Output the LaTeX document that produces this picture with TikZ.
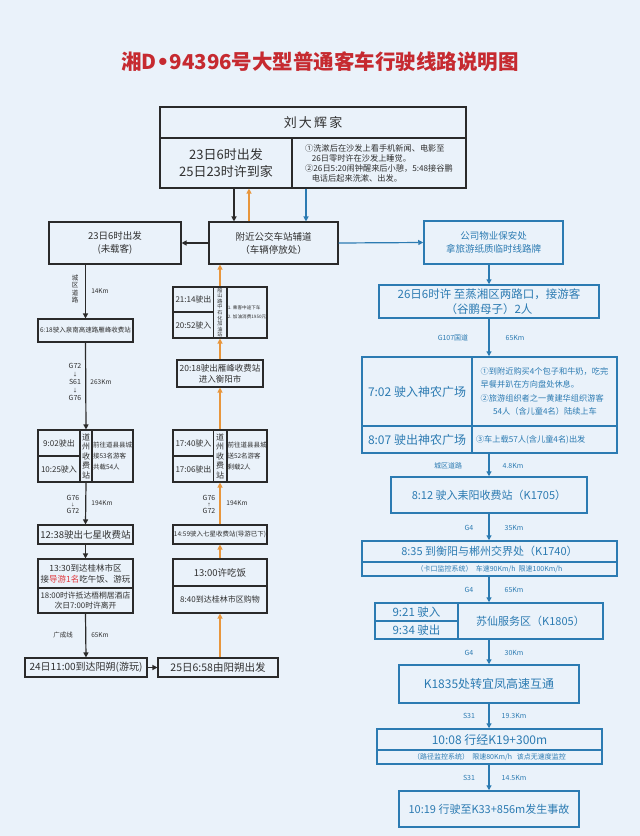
\documentclass[tikz,border=0pt]{standalone}
\usepackage{fontspec}
\setmainfont{Noto Sans CJK SC}
\newfontfamily\djv{DejaVu Sans}
\usetikzlibrary{arrows.meta}
\definecolor{bg}{HTML}{EAF2FA}
\definecolor{ttl}{HTML}{C62A30}
\definecolor{bl}{HTML}{2C7BB2}
\definecolor{dk}{HTML}{2A2A2A}
\definecolor{og}{HTML}{E8963C}
\definecolor{txt}{HTML}{303030}
\definecolor{rd}{HTML}{E0393E}
\newcommand\fs[2]{\fontsize{#1}{#2}\selectfont}
\tikzset{
  wh/.style 2 args={minimum width=#1pt,minimum height=#2pt},
  f/.style 2 args={font=\fs{#1}{#2}},
  lb/.style={draw=dk,line width=1.1pt,fill=bg,text=txt,inner sep=0pt,align=center},
  rb/.style={draw=bl,line width=1.5pt,fill=bg,text=bl,inner sep=0pt,align=center},
  arr/.style={-{Triangle[length=5pt,width=5pt]},line width=1.2pt},
  lab/.style={text=txt,inner sep=0pt,align=center},
  rlab/.style={text=bl,inner sep=0pt,align=center,font=\fs{7}{8}},
}
\begin{document}
\begin{tikzpicture}[x=1pt,y=-1pt]
\fill[bg] (0,0) rectangle (640,836);
\useasboundingbox (0,0) rectangle (640,836);
% title
\node[text=ttl,font=\bfseries\fs{20.5}{26}] (title) at (320,62) {湘D{\djv\bfseries•}94396号大型普通客车行驶线路说明图};
% top box
\node[lb,wh={306}{31},f={13}{15}] (home) at (313,122.5) {刘\,大\,辉\,家};
\node[lb,wh={132}{50},f={13}{17}] (dep) at (226,163) {23日6时出发\\25日23时许到家};
\node[lb,wh={174}{50},align=left,f={8.2}{10}] (note) at (379,163) {①洗漱后在沙发上看手机新闻、电影至\\\hspace*{0.8em}26日零时许在沙发上睡觉。\\②26日5:20闹钟醒来后小憩，5:48接谷鹏\\\hspace*{0.8em}电话后起来洗漱、出发。};
% bus stop and start
\node[lb,wh={129}{42},f={9.5}{13}] (bus) at (273.5,243) {附近公交车站辅道\\（车辆停放处）};
\node[lb,wh={132}{42},f={9.5}{13}] (start) at (115,243) {23日6时出发\\(未载客)};
\coordinate (xb) at (234,0);
\coordinate (xo) at (249,0);
\coordinate (xl) at (306,0);
\coordinate (cx) at (489,0);
\draw[arr,dk] (dep.south -| xb) -- (bus.north -| xb);
\draw[arr,og] (bus.north -| xo) -- (dep.south -| xo);
\draw[arr,bl] (note.south -| xl) -- (bus.north -| xl);
\draw[arr,dk] (bus.west) -- (start.east);
% left column
\node[lb,wh={95}{23},f={6.5}{8}] (s618) at (85.5,330.5) {6:18驶入泉南高速路雁峰收费站};
\node[lb,wh={42}{26},f={8}{10}] (l902) at (59,443) {9:02驶出};
\node[lb,wh={42}{26},f={8}{10}] (l1025) at (59,469) {10:25驶入};
\node[lb,wh={12}{52},f={8}{9.5}] (ldz) at (86,456) {道\\州\\收\\费\\站};
\node[lb,wh={41}{52},align=left,f={6.5}{11}] (lnote) at (112.5,456) {前往道县县城\\接53名游客\\共载54人};
\node[lb,wh={95}{19},f={9.5}{11}] (s1238) at (85.5,534.5) {12:38驶出七星收费站};
\node[lb,wh={95}{29},f={8.5}{11}] (s1330) at (85.5,573.5) {13:30到达桂林市区\\接\textcolor{rd}{导游1名}吃午饭、游玩};
\node[lb,wh={95}{25},f={7.8}{10}] (s1800) at (85.5,600.5) {18:00时许抵达梧桐居酒店\\次日7:00时许离开};
\node[lb,wh={122}{19},f={10}{12}] (s24) at (86,667.5) {24日11:00到达阳朔(游玩)};
\node[lb,wh={120}{19},f={10.5}{12}] (s25) at (218,667.5) {25日6:58由阳朔出发};
\draw[arr,dk] (start.south -| s618.north) -- (s618.north);
\draw[arr,dk] (s618.south) -- (ldz.north);
\draw[arr,dk] (ldz.south) -- (s1238.north);
\draw[arr,dk] (s1238.south) -- (s1330.north);
\draw[arr,dk] (s1800.south) -- (s24.north);
\draw[arr,dk] (s24.east) -- (s25.west);
\node[lab,f={6.5}{7.5}] (t1) at (75,289) {城\\区\\道\\路};
\node[lab,f={6.5}{7}] (t2) at (100,291) {14Km};
\node[lab,f={7}{8}] (t3) at (75,382) {G72\\{\fs{5}{8}↓}\\S61\\{\fs{5}{8}↓}\\G76};
\node[lab,f={6.5}{7}] (t4) at (101,382) {263Km};
\node[lab,f={7}{6.5}] (t5) at (73,504) {G76\\{\fs{4}{6.5}↓}\\G72};
\node[lab,f={6.5}{7}] (t6) at (102,503) {194Km};
\node[lab,f={6.5}{7}] (t7) at (63,635) {广成线};
\node[lab,f={6.5}{7}] (t8) at (100,635) {65Km};
% middle column
\node[lb,wh={94}{27},f={9.5}{11}] (m1300) at (220,572.5) {13:00许吃饭};
\node[lb,wh={94}{27},f={8}{10}] (m840) at (220,599.5) {8:40到达桂林市区购物};
\node[lb,wh={94}{19},f={6.5}{8}] (m1459) at (220,534.5) {14:59驶入七星收费站(导游已下)};
\node[lb,wh={41}{26},f={8}{10}] (m1740) at (193.5,443) {17:40驶入};
\node[lb,wh={41}{26},f={8}{10}] (m1706) at (193.5,469) {17:06驶出};
\node[lb,wh={13}{52},f={8}{9.5}] (mdz) at (220,456) {道\\州\\收\\费\\站};
\node[lb,wh={40}{52},align=left,f={6.5}{11}] (mnote) at (247,456) {前往道县县城\\送52名游客\\剩载2人};
\node[lb,wh={86}{27},f={8.5}{11}] (m2018) at (220,373.5) {20:18驶出雁峰收费站\\进入衡阳市};
\node[lb,wh={41}{25},f={8}{10}] (m2114) at (193.5,299.5) {21:14驶出};
\node[lb,wh={41}{26},f={8}{10}] (m2052) at (193.5,325) {20:52驶入};
\node[lb,wh={13}{51},f={5.2}{5.6}] (mgas) at (220,312.5) {船\\山\\路\\中\\石\\化\\加\\油\\站};
\node[lb,wh={40}{51},align=left,f={4.6}{9}] (mgnote) at (247,312.5) {1. 乘客中途下车\\2. 加油消费1950元};
\draw[arr,og] (s25.north -| m840.south) -- (m840.south);
\draw[arr,og] (m1300.north) -- (m1459.south);
\draw[arr,og] (m1459.north) -- (mdz.south);
\draw[arr,og] (mdz.north) -- (m2018.south);
\draw[arr,og] (m2018.north) -- (mgas.south);
\draw[arr,og] (mgas.north) -- (mgas.north |- bus.south);
\node[lab,f={7}{6.5}] (t9) at (209,504) {G76\\{\fs{4}{6.5}↑}\\G72};
\node[lab,f={6.5}{7}] (t10) at (237,503) {194Km};
% right column
\node[rb,wh={139}{43},f={9.5}{13}] (wuye) at (493.5,242.5) {公司物业保安处\\拿旅游纸质临时线路牌};
\node[rb,wh={220}{33},f={11.5}{14.5}] (d26) at (489,301.5) {26日6时许 至蒸湘区两路口，接游客\\（谷鹏母子）2人};
\node[rb,wh={110}{69},f={12}{14}] (r702) at (417,391.5) {7:02 驶入神农广场};
\node[rb,wh={110}{27},f={12}{14}] (r807) at (417,439.5) {8:07 驶出神农广场};
\node[rb,wh={145}{69},align=left,f={8.2}{13.3}] (rn1) at (544.5,391.5) {①到附近购买4个包子和牛奶，吃完\\早餐并趴在方向盘处休息。\\②旅游组织者之一黄建华组织游客\\\hspace*{1.5em}54人（含儿童4名）陆续上车};
\node[rb,wh={145}{27},text width=137pt,align=left,f={8.2}{10}] (rn2) at (544.5,439.5) {③车上载57人(含儿童4名)出发};
\node[rb,wh={196}{36},f={11}{13}] (r812) at (489,495) {8:12 驶入耒阳收费站（K1705）};
\node[rb,wh={255}{21},f={11}{13}] (r835) at (489.5,551.5) {8:35 到衡阳与郴州交界处（K1740）};
\node[rb,wh={255}{14},f={7}{8}] (r835b) at (489.5,569) {（卡口监控系统）\ \ 车速90Km/h\ \ 限速100Km/h};
\node[rb,wh={83}{18},f={11.5}{13}] (r921) at (416.5,612) {9:21 驶入};
\node[rb,wh={83}{18},f={11.5}{13}] (r934) at (416.5,630) {9:34 驶出};
\node[rb,wh={145}{36},f={11}{13}] (rsx) at (530.5,621) {苏仙服务区（K1805）};
\node[rb,wh={180}{38},f={12}{14}] (rk) at (489,684) {K1835处转宜凤高速互通};
\node[rb,wh={225}{21},f={12}{14}] (r1008) at (489.5,739.5) {10:08 行经K19+300m};
\node[rb,wh={225}{14},f={7}{8}] (r1008b) at (489.5,757) {（路径监控系统）\ \ 限速80Km/h\ \ \ 该点无速度监控};
\node[rb,wh={180}{36},f={11}{13}] (r1019) at (489,809) {10:19 行驶至K33+856m发生事故};
\draw[arr,bl] (bus.east) -- (wuye.west);
\draw[arr,bl] (wuye.south -| cx) -- (d26.north -| cx);
\draw[arr,bl] (d26.south -| cx) -- (rn1.north -| cx);
\draw[arr,bl] (rn2.south -| cx) -- (r812.north -| cx);
\draw[arr,bl] (r812.south -| cx) -- (r835.north -| cx);
\draw[arr,bl] (r835b.south -| cx) -- (rsx.north -| cx);
\draw[arr,bl] (rsx.south -| cx) -- (rk.north -| cx);
\draw[arr,bl] (rk.south -| cx) -- (r1008.north -| cx);
\draw[arr,bl] (r1008b.south -| cx) -- (r1019.north -| cx);
\node[rlab] (b1) at (453,338) {G107国道};
\node[rlab] (b2) at (515,338) {65Km};
\node[rlab] (b3) at (448,466) {城区道路};
\node[rlab] (b4) at (513,466) {4.8Km};
\node[rlab] (b5) at (469,528) {G4};
\node[rlab] (b6) at (514,528) {35Km};
\node[rlab] (b7) at (469,590) {G4};
\node[rlab] (b8) at (514,590) {65Km};
\node[rlab] (b9) at (469,653) {G4};
\node[rlab] (b10) at (514,653) {30Km};
\node[rlab] (b11) at (469,716) {S31};
\node[rlab] (b12) at (514,716) {19.3Km};
\node[rlab] (b13) at (469,778) {S31};
\node[rlab] (b14) at (514,778) {14.5Km};
\end{tikzpicture}
\end{document}
